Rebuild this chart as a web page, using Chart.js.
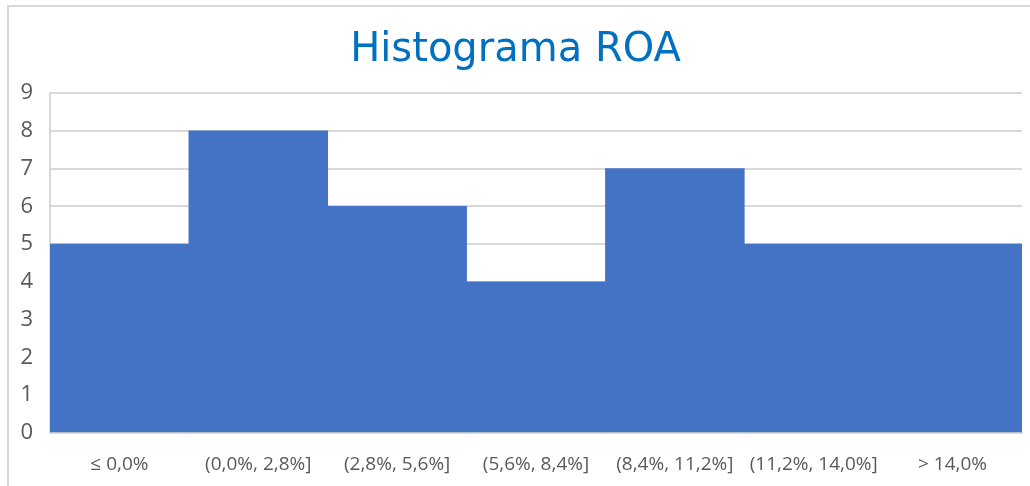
<!DOCTYPE html>
<html>
<head>
<meta charset="utf-8">
<script src="https://cdn.jsdelivr.net/npm/chart.js@4/dist/chart.umd.min.js"></script>
<style>
  html, body { margin: 0; padding: 0; background: #fff; }
  #frame {
    position: absolute; left: 7px; top: 5px;
    width: 1021px; height: 479px;
    border-top: 2px solid #d9d9d9; border-left: 2px solid #d9d9d9;
  }
</style>
</head>
<body>
<div id="frame"><canvas id="chart" width="1021" height="479"></canvas></div>
<script>
const categories = ['≤ 0,0%', '(0,0%, 2,8%]', '(2,8%, 5,6%]', '(5,6%, 8,4%]', '(8,4%, 11,2%]', '(11,2%, 14,0%]', '> 14,0%'];
const counts = [5, 8, 6, 4, 7, 5, 5];
const yTicks = [0, 1, 2, 3, 4, 5, 6, 7, 8, 9];

const ctx = document.getElementById('chart').getContext('2d');
new Chart(ctx, {
  type: 'bar',
  data: {
    labels: categories,
    datasets: [{
      label: 'ROA',
      data: counts,
      backgroundColor: '#4472C4',
      borderWidth: 0,
      barPercentage: 1,
      categoryPercentage: 1,
    }],
  },
  options: {
    responsive: false,
    animation: false,
    layout: { padding: { left: 0, right: 8, top: 0, bottom: 0 } },
    plugins: {
      legend: { display: false },
      tooltip: { enabled: false },
      title: {
        display: true,
        text: 'Histograma ROA',
        color: '#0070C0',
        font: { family: 'DejaVu Sans', size: 40, weight: 'normal' },
        padding: { top: 20, bottom: 18 },
      },
    },
    scales: {
      x: {
        afterFit: (scale) => { scale.height = 53; },
        grid: { display: false, drawTicks: false },
        border: { display: true, color: '#d9d9d9', width: 2 },
        ticks: {
          color: '#595959',
          font: { family: 'Open Sans', size: 19 },
          padding: 20,
          maxRotation: 0,
          autoSkip: false,
        },
      },
      y: {
        min: 0,
        max: 9,
        afterFit: (scale) => { scale.width = 41; },
        afterBuildTicks: (scale) => { scale.ticks = yTicks.map(v => ({ value: v })); },
        grid: { color: '#d9d9d9', lineWidth: 2, drawTicks: false },
        border: { display: true, color: '#d9d9d9', width: 2 },
        ticks: {
          color: '#595959',
          font: { family: 'Open Sans', size: 22 },
          padding: 17,
        },
      },
    },
  },
});
</script>
</body>
</html>
